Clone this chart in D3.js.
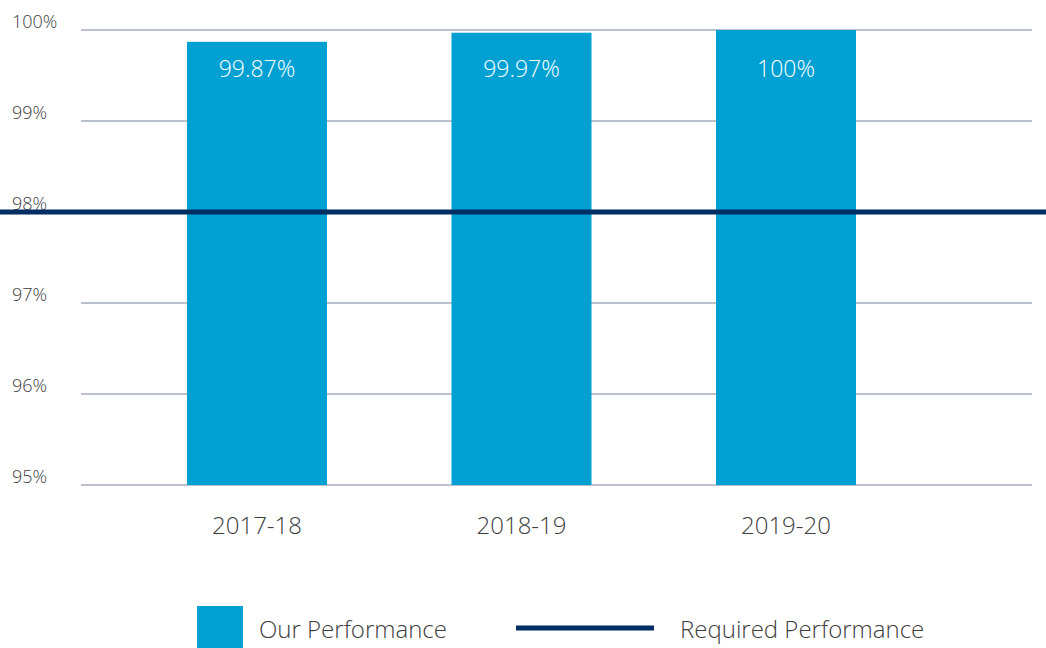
<!DOCTYPE html>
<html><head><meta charset="utf-8">
<script src="https://cdn.jsdelivr.net/npm/d3@7"></script>
<style>body{margin:0;background:#fff;} text{font-family:"Open Sans", sans-serif;font-weight:300;}</style>
</head><body>
<svg id="chart" width="1046" height="648"></svg>
<script>
const categories = ["2017-18", "2018-19", "2019-20"];
const ourPerformance = [99.87, 99.97, 100];
const valueLabels = ["99.87%", "99.97%", "100%"];
const requiredPerformance = 98;
const yTicks = [95, 96, 97, 98, 99, 100];
const legendLabels = ["Our Performance", "Required Performance"];

const svg = d3.select("#chart");
const barColor = "#00a0d2", lineColor = "#002d62", gridColor = "#a3acb9", textColor = "#3d3d3d";

const y = d3.scaleLinear().domain([95, 100]).range([485, 30]);
const x = d3.scaleBand().domain(categories).range([124.75, 918.25]).paddingInner(0.4707).paddingOuter(0.2354);

// grid
svg.append("g").selectAll("line").data(yTicks).join("line")
  .attr("x1", 81).attr("x2", 1032)
  .attr("y1", d => y(d)).attr("y2", d => y(d))
  .attr("stroke", gridColor).attr("stroke-width", 1.5);

svg.append("g").selectAll("text").data(yTicks).join("text")
  .attr("x", 12).attr("y", d => y(d) - 2)
  .attr("fill", textColor).attr("font-size", 18)
  .text(d => d + "%");

// bars
svg.append("g").selectAll("rect").data(ourPerformance).join("rect")
  .attr("x", (d, i) => x(categories[i])).attr("width", x.bandwidth())
  .attr("y", d => y(d)).attr("height", d => y(95) - y(d))
  .attr("fill", barColor);

svg.append("g").selectAll("text").data(valueLabels).join("text")
  .attr("x", (d, i) => x(categories[i]) + x.bandwidth() / 2)
  .attr("y", y(100) + 47).attr("text-anchor", "middle")
  .attr("fill", "#fff").attr("font-size", 23)
  .text(d => d);

// required line
svg.append("line").attr("x1", 0).attr("x2", 1046)
  .attr("y1", y(requiredPerformance)).attr("y2", y(requiredPerformance))
  .attr("stroke", lineColor).attr("stroke-width", 5);

// x labels
svg.append("g").selectAll("text").data(categories).join("text")
  .attr("x", d => x(d) + x.bandwidth() / 2).attr("y", 534)
  .attr("text-anchor", "middle").attr("fill", textColor).attr("font-size", 24)
  .text(d => d);

// legend
svg.append("rect").attr("x", 197).attr("y", 606).attr("width", 46).attr("height", 42).attr("fill", barColor);
svg.append("text").attr("x", 259).attr("y", 638).attr("fill", textColor).attr("font-size", 24).text(legendLabels[0]);
svg.append("line").attr("x1", 516).attr("x2", 654).attr("y1", 628).attr("y2", 628).attr("stroke", lineColor).attr("stroke-width", 5);
svg.append("text").attr("x", 680).attr("y", 638).attr("fill", textColor).attr("font-size", 24).text(legendLabels[1]);
</script>
</body></html>
